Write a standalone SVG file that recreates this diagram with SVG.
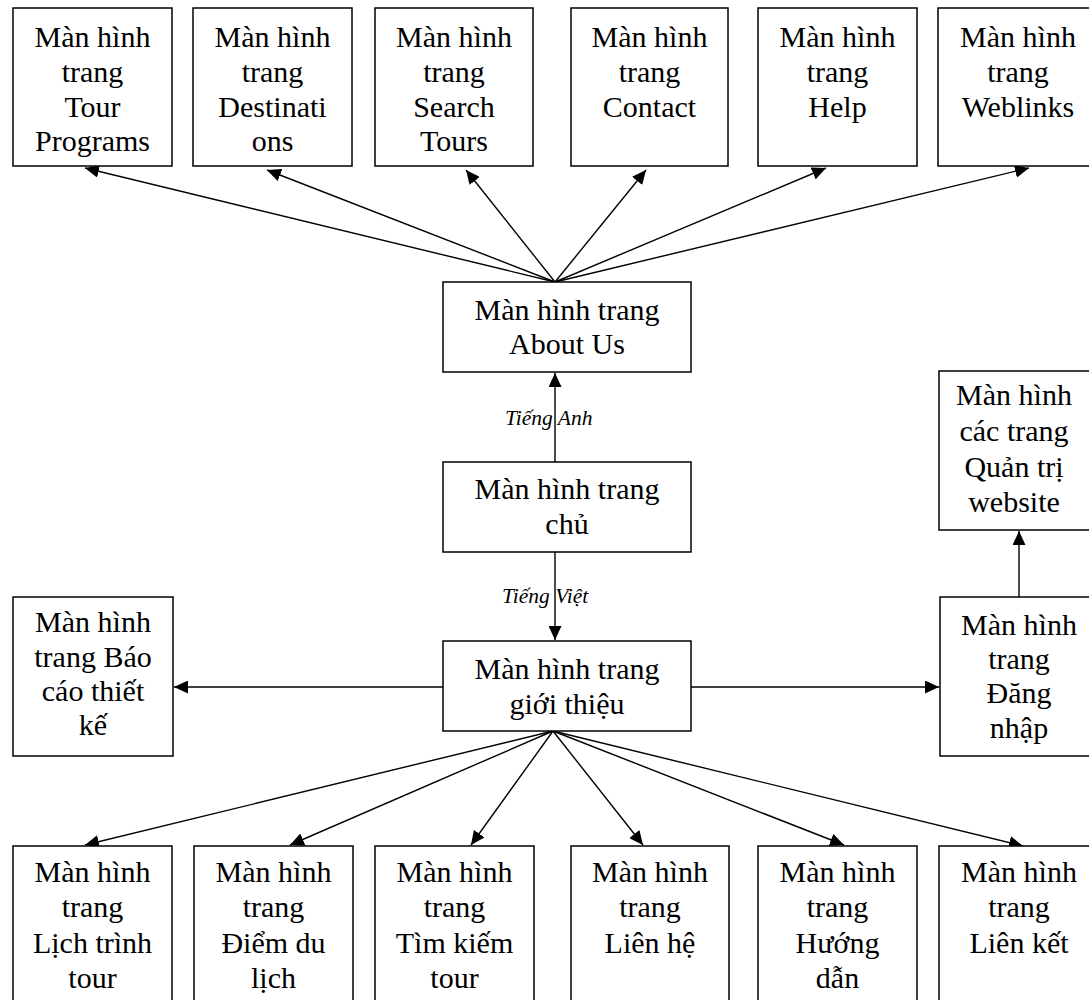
<svg xmlns="http://www.w3.org/2000/svg" width="1089" height="1000" viewBox="0 0 1089 1000">
<style>
.b{fill:#fff;stroke:#000;stroke-width:1.5}
.t{font-family:"Liberation Serif","Times New Roman",serif;font-size:30px;fill:#000;text-anchor:middle}
.l{font-family:"Liberation Serif","Times New Roman",serif;font-size:21.5px;font-style:italic;fill:#000}
.c line{stroke:#000;stroke-width:1.4;marker-end:url(#ah)}
</style>
<defs>
<marker id="ah" markerUnits="userSpaceOnUse" markerWidth="14" markerHeight="13" refX="14" refY="6.5" orient="auto">
<path d="M0,0 L14,6.5 L0,13 z" fill="#000"/>
</marker>
</defs>
<rect width="1089" height="1000" fill="#fff"/>

<g class="c" id="connectors">
<line x1="555" y1="282" x2="85" y2="168"/>
<line x1="555" y1="282" x2="267" y2="170"/>
<line x1="555" y1="282" x2="466" y2="170"/>
<line x1="555" y1="282" x2="646" y2="170"/>
<line x1="555" y1="282" x2="826" y2="168"/>
<line x1="555" y1="282" x2="1029" y2="168"/>
<line x1="555" y1="462" x2="555" y2="373"/>
<line x1="555" y1="552" x2="555" y2="640"/>
<line x1="443" y1="687" x2="174" y2="687"/>
<line x1="691" y1="687" x2="939" y2="687"/>
<line x1="1019" y1="597" x2="1019" y2="531"/>
<line x1="553" y1="731" x2="85" y2="845"/>
<line x1="553" y1="731" x2="290" y2="845"/>
<line x1="553" y1="731" x2="471" y2="845"/>
<line x1="553" y1="731" x2="643" y2="845"/>
<line x1="553" y1="731" x2="844" y2="845"/>
<line x1="553" y1="731" x2="1023" y2="846"/>
</g>
<text class="l" x="505" y="425">Tiếng Anh</text>
<text class="l" x="502" y="603">Tiếng Việt</text>

<g id="top1"><rect class="b" x="13" y="8" width="159" height="158"/><text class="t"><tspan x="92.5" y="47">Màn hình</tspan><tspan x="92.5" y="82">trang</tspan><tspan x="92.5" y="117">Tour</tspan><tspan x="92.5" y="151">Programs</tspan></text></g>
<g id="top2"><rect class="b" x="193" y="8" width="159" height="158"/><text class="t"><tspan x="272.5" y="47">Màn hình</tspan><tspan x="272.5" y="82">trang</tspan><tspan x="272.5" y="117">Destinati</tspan><tspan x="272.5" y="151">ons</tspan></text></g>
<g id="top3"><rect class="b" x="375" y="8" width="158" height="158"/><text class="t"><tspan x="454" y="47">Màn hình</tspan><tspan x="454" y="82">trang</tspan><tspan x="454" y="117">Search</tspan><tspan x="454" y="151">Tours</tspan></text></g>
<g id="top4"><rect class="b" x="571" y="8" width="157" height="158"/><text class="t"><tspan x="649.5" y="47">Màn hình</tspan><tspan x="649.5" y="82">trang</tspan><tspan x="649.5" y="117">Contact</tspan></text></g>
<g id="top5"><rect class="b" x="758" y="8" width="159" height="158"/><text class="t"><tspan x="837.5" y="47">Màn hình</tspan><tspan x="837.5" y="82">trang</tspan><tspan x="837.5" y="117">Help</tspan></text></g>
<g id="top6"><rect class="b" x="938" y="8" width="160" height="158"/><text class="t"><tspan x="1018" y="47">Màn hình</tspan><tspan x="1018" y="82">trang</tspan><tspan x="1018" y="117">Weblinks</tspan></text></g>

<g id="aboutus"><rect class="b" x="443" y="282" width="248" height="90"/><text class="t"><tspan x="567" y="320">Màn hình trang</tspan><tspan x="567" y="354">About Us</tspan></text></g>
<g id="home"><rect class="b" x="443" y="462" width="248" height="90"/><text class="t"><tspan x="567" y="499">Màn hình trang</tspan><tspan x="567" y="534">chủ</tspan></text></g>
<g id="intro"><rect class="b" x="443" y="641" width="248" height="90"/><text class="t"><tspan x="567" y="679">Màn hình trang</tspan><tspan x="567" y="714">giới thiệu</tspan></text></g>

<g id="admin"><rect class="b" x="939" y="371" width="160" height="159"/><text class="t"><tspan x="1014" y="405">Màn hình</tspan><tspan x="1014" y="441">các trang</tspan><tspan x="1014" y="477">Quản trị</tspan><tspan x="1014" y="512">website</tspan></text></g>
<g id="login"><rect class="b" x="940" y="597" width="160" height="159"/><text class="t"><tspan x="1019" y="635">Màn hình</tspan><tspan x="1019" y="669">trang</tspan><tspan x="1019" y="703">Đăng</tspan><tspan x="1019" y="738">nhập</tspan></text></g>
<g id="report"><rect class="b" x="13" y="597" width="160" height="159"/><text class="t"><tspan x="93" y="632">Màn hình</tspan><tspan x="93" y="667">trang Báo</tspan><tspan x="93" y="701">cáo thiết</tspan><tspan x="93" y="735">kế</tspan></text></g>

<g id="bot1"><rect class="b" x="13" y="846" width="159" height="170"/><text class="t"><tspan x="92.5" y="882">Màn hình</tspan><tspan x="92.5" y="917">trang</tspan><tspan x="92.5" y="953">Lịch trình</tspan><tspan x="92.5" y="988">tour</tspan></text></g>
<g id="bot2"><rect class="b" x="194" y="846" width="159" height="170"/><text class="t"><tspan x="273.5" y="882">Màn hình</tspan><tspan x="273.5" y="917">trang</tspan><tspan x="273.5" y="953">Điểm du</tspan><tspan x="273.5" y="988">lịch</tspan></text></g>
<g id="bot3"><rect class="b" x="375" y="846" width="159" height="170"/><text class="t"><tspan x="454.5" y="882">Màn hình</tspan><tspan x="454.5" y="917">trang</tspan><tspan x="454.5" y="953">Tìm kiếm</tspan><tspan x="454.5" y="988">tour</tspan></text></g>
<g id="bot4"><rect class="b" x="571" y="846" width="158" height="170"/><text class="t"><tspan x="650" y="882">Màn hình</tspan><tspan x="650" y="917">trang</tspan><tspan x="650" y="953">Liên hệ</tspan></text></g>
<g id="bot5"><rect class="b" x="758" y="846" width="159" height="170"/><text class="t"><tspan x="837.5" y="882">Màn hình</tspan><tspan x="837.5" y="917">trang</tspan><tspan x="837.5" y="953">Hướng</tspan><tspan x="837.5" y="988">dẫn</tspan></text></g>
<g id="bot6"><rect class="b" x="939" y="846" width="160" height="170"/><text class="t"><tspan x="1019" y="882">Màn hình</tspan><tspan x="1019" y="917">trang</tspan><tspan x="1019" y="953">Liên kết</tspan></text></g>
</svg>
